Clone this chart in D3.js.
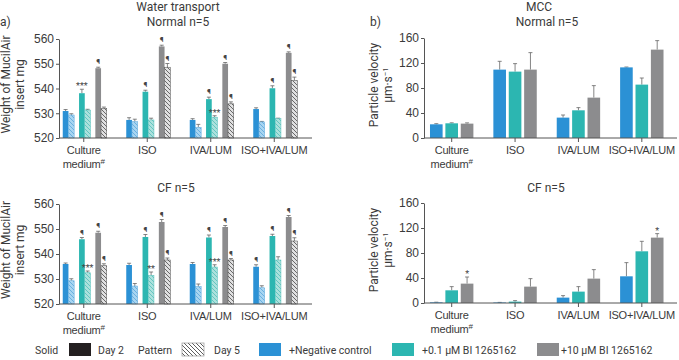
<!DOCTYPE html>
<html>
<head>
<meta charset="utf-8">
<script src="https://cdn.jsdelivr.net/npm/d3@7"></script>
<style>
  body { margin: 0; background: #fff; }
  svg { font-family: Roboto, "DejaVu Sans", sans-serif; }
</style>
</head>
<body>
<div id="chart"></div>
<script>
// categories and legend entries
const categoryLabels = [["Culture", "medium#"], ["ISO"], ["IVA/LUM"], ["ISO+IVA/LUM"]];
const treatments = ["+Negative control", "+0.1 µM BI 1265162", "+10 µM BI 1265162"];

// water transport, weight of MucilAir insert (mg); rows = treatment, cols = category
const waterNormalDay2 = [[530.9, 527.3, 527.3, 531.7], [538.1, 538.7, 535.7, 540.1], [548.2, 557.0, 550.0, 554.4]];
const waterNormalDay2Err = [[0.6, 0.9, 0.5, 0.5], [1.6, 0.6, 0.8, 1.0], [0.4, 0.5, 0.5, 0.4]];
const waterNormalDay5 = [[529.3, 526.6, 524.3, 526.5], [531.3, 527.3, 528.4, 527.8], [532.0, 548.6, 533.8, 543.2]];
const waterNormalDay5Err = [[0.5, 1.0, 1.2, 0.2], [0.3, 0.7, 0.6, 0.2], [0.5, 1.5, 0.8, 1.4]];
const waterCFDay2 = [[536.0, 535.6, 536.0, 534.9], [545.9, 546.8, 546.6, 547.2], [548.5, 552.8, 550.8, 554.8]];
const waterCFDay2Err = [[0.4, 0.7, 0.6, 0.8], [0.7, 1.0, 1.0, 0.7], [0.6, 1.0, 0.6, 0.6]];
const waterCFDay5 = [[529.3, 527.2, 527.0, 526.5], [532.5, 531.5, 534.8, 537.6], [535.3, 537.6, 537.6, 545.2]];
const waterCFDay5Err = [[0.8, 1.0, 1.0, 0.8], [0.7, 1.3, 0.9, 1.3], [0.8, 0.8, 0.6, 1.3]];

// MCC particle velocity (µm/s)
const mccNormal = [[21.9, 109.4, 32.6, 113.0], [23.5, 106.2, 44.3, 85.4], [23.0, 109.4, 64.6, 141.4]];
const mccNormalErr = [[1.0, 13.3, 4.2, 0.6], [0.8, 12.8, 4.3, 10.6], [1.2, 27.2, 19.2, 14.4]];
const mccCF = [[1.0, 0.8, 8.6, 42.7], [20.3, 2.2, 18.2, 82.7], [31.0, 26.2, 39.0, 104.6]];
const mccCFErr = [[0.3, 0.2, 3.2, 21.9], [5.9, 1.6, 8.0, 16.0], [10.6, 12.8, 14.4, 6.4]];

// significance marks: [category, treatment, day, text]
const waterNormalMarks = [
  [0, 1, 2, "***"], [0, 2, 2, "¶"],
  [1, 1, 2, "¶"], [1, 2, 2, "¶"], [1, 2, 5, "¶"],
  [2, 1, 2, "¶"], [2, 1, 5, "***"], [2, 2, 2, "¶"], [2, 2, 5, "¶"],
  [3, 1, 2, "¶"], [3, 2, 2, "¶"], [3, 2, 5, "¶"]
];
const waterCFMarks = [
  [0, 1, 2, "¶"], [0, 1, 5, "***"], [0, 2, 2, "¶"], [0, 2, 5, "¶"],
  [1, 1, 2, "¶"], [1, 1, 5, "**"], [1, 2, 2, "¶"], [1, 2, 5, "¶"],
  [2, 1, 2, "¶"], [2, 1, 5, "***"], [2, 2, 2, "¶"], [2, 2, 5, "¶"],
  [3, 0, 2, "¶"], [3, 1, 2, "¶"], [3, 2, 2, "¶"], [3, 2, 5, "¶"]
];
const mccCFMarks = [[0, 2, "*"], [3, 2, "*"]];

const solidColors = ["#2b91d5", "#2cb6b1", "#8c8c8e"];
const lightColors = ["#a8d5f1", "#ace1dd", "#e0e0e1"];
const hatchColors = ["#5aa7dc", "#52bfb9", "#4a4a4a"];
const axisColor = "#555";
const textColor = "#3a3a3a";

const svg = d3.select("#chart").append("svg")
  .attr("width", 679).attr("height", 360);

// hatch patterns
const defs = svg.append("defs");
function addHatch(id, bg, line) {
  const p = defs.append("pattern").attr("id", id)
    .attr("patternUnits", "userSpaceOnUse").attr("width", 4).attr("height", 4);
  p.append("rect").attr("width", 4).attr("height", 4).attr("fill", bg);
  p.append("path").attr("d", "M-1,-1L5,5M-1,3L1,5M3,-1L5,1")
    .attr("stroke", line).attr("stroke-width", 0.8);
}
lightColors.forEach((c, i) => addHatch("hatch" + i, c, hatchColors[i]));
addHatch("hatchLegend", "#fff", "#333");

const cats = d3.range(categoryLabels.length);

function drawAxes(g, x, y, axisX, ticks) {
  const yAxis = g.append("g")
    .attr("transform", `translate(${axisX[0]},0)`)
    .call(d3.axisLeft(y).tickValues(ticks).tickSize(3).tickPadding(2).tickSizeOuter(0));
  yAxis.select(".domain").attr("stroke", axisColor);
  yAxis.selectAll(".tick line").attr("stroke", axisColor);
  yAxis.selectAll(".tick text").attr("fill", textColor).style("font-size", "12px");

  const y0 = y.range()[0];
  g.append("line")
    .attr("x1", axisX[0]).attr("x2", axisX[1])
    .attr("y1", y0).attr("y2", y0)
    .attr("stroke", axisColor);
  const xAxis = g.append("g")
    .attr("transform", `translate(0,${y0})`)
    .call(d3.axisBottom(x).tickSize(4).tickSizeOuter(0).tickFormat(""));
  xAxis.select(".domain").remove();
  xAxis.selectAll(".tick line").attr("stroke", axisColor);
  xAxis.selectAll(".tick").each(function (d) {
    const t = d3.select(this).append("text")
      .attr("fill", textColor).attr("text-anchor", "middle")
      .style("font-size", "11px").style("letter-spacing", "-0.2px");
    categoryLabels[d].forEach((line, i) => {
      const ts = t.append("tspan").attr("x", 0).attr("y", 16 + i * 14);
      if (line.endsWith("#")) {
        ts.text(line.slice(0, -1));
        ts.append("tspan").attr("dy", -4).style("font-size", "8px").text("#");
      } else {
        ts.text(line);
      }
    });
  });
}

function drawYLabel(g, lines, cx, cy) {
  lines.forEach((l, i) => {
    const t = g.append("text")
      .attr("transform", `translate(${cx + i * 14},${cy}) rotate(-90)`)
      .attr("text-anchor", "middle").attr("fill", textColor)
      .style("font-size", "12px");
    if (typeof l === "string") t.text(l);
    else {
      t.text(l[0]);
      t.append("tspan").attr("dy", -4).style("font-size", "8px").text(l[1]);
    }
  });
}

function drawErr(g, xc, yTop, yErr) {
  g.append("line").attr("x1", xc).attr("x2", xc).attr("y1", yTop).attr("y2", yErr)
    .attr("stroke", "#666").attr("stroke-width", 0.8);
  g.append("line").attr("x1", xc - 2).attr("x2", xc + 2).attr("y1", yErr).attr("y2", yErr)
    .attr("stroke", "#666").attr("stroke-width", 0.8);
}

function mark(g, xc, yPos, txt) {
  const star = txt.indexOf("*") >= 0;
  g.append("text")
    .attr("x", xc).attr("y", star ? yPos + 2 : yPos - 1)
    .attr("text-anchor", "middle").attr("fill", "#444")
    .style("font-size", star ? "9px" : "8px")
    .text(txt);
}

// water transport panel: pairs of day 2 (solid) / day 5 (hatched) bars
function waterPanel(yRange, d2, e2, d5, e5, marks) {
  const g = svg.append("g");
  const x = d3.scaleBand().domain(cats).range([52, 306]);
  const y = d3.scaleLinear().domain([520, 560]).range(yRange);
  const bw = x.bandwidth();
  const xt = d3.scaleBand().domain([0, 1, 2]).range([bw / 2 - 21, bw / 2 + 23]).paddingInner(0.3);
  const xd = d3.scaleBand().domain([2, 5]).range([0, xt.bandwidth()]);

  const sets = [[2, d2, e2], [5, d5, e5]];
  const pos = {};
  sets.forEach(([day, vals, errs]) => {
    vals.forEach((row, s) => {
      row.forEach((v, c) => {
        const x0 = x(c) + xt(s) + xd(day);
        const w = xd.bandwidth();
        drawErr(g, x0 + w / 2, y(v), y(v + errs[s][c]));
        g.append("rect")
          .attr("x", x0).attr("y", y(v))
          .attr("width", w).attr("height", y(520) - y(v))
          .attr("fill", day === 2 ? solidColors[s] : `url(#hatch${s})`)
          .attr("stroke", day === 2 ? "none" : hatchColors[s])
          .attr("stroke-width", 0.5);
        pos[[c, s, day]] = [x0 + w / 2, y(v + errs[s][c])];
      });
    });
  });
  marks.forEach(([c, s, day, txt]) => {
    const [px, py] = pos[[c, s, day]];
    mark(g, px, py - 2, txt);
  });
  drawAxes(g, x, y, [59, 312], [520, 530, 540, 550, 560]);
  drawYLabel(g, ["Weight of MucilAir", "insert mg"], 10, (yRange[0] + yRange[1]) / 2 - 4);
}

// MCC panel: three solid bars per category
function mccPanel(yRange, vals, errs, marks) {
  const g = svg.append("g");
  const x = d3.scaleBand().domain(cats).range([420, 673.5]);
  const y = d3.scaleLinear().domain([0, 160]).range(yRange);
  const bw = x.bandwidth();
  const xt = d3.scaleBand().domain([0, 1, 2]).range([bw / 2 - 21.7, bw / 2 + 21.7]).paddingInner(0.18);
  vals.forEach((row, s) => {
    row.forEach((v, c) => {
      const x0 = x(c) + xt(s);
      const w = xt.bandwidth();
      drawErr(g, x0 + w / 2, y(v), y(v + errs[s][c]));
      g.append("rect")
        .attr("x", x0).attr("y", y(v))
        .attr("width", w).attr("height", y(0) - y(v))
        .attr("fill", solidColors[s]);
    });
  });
  marks.forEach(([c, s, txt]) => {
    const w = xt.bandwidth();
    mark(g, x(c) + xt(s) + w / 2, y(vals[s][c] + errs[s][c]) - 2, txt);
  });
  drawAxes(g, x, y, [424, 677], [0, 40, 80, 120, 160]);
  drawYLabel(g, ["Particle velocity", ["µm·s", "−1"]], 378, (yRange[0] + yRange[1]) / 2 - 3);
}

waterPanel([138, 39], waterNormalDay2, waterNormalDay2Err, waterNormalDay5, waterNormalDay5Err, waterNormalMarks);
waterPanel([304, 204], waterCFDay2, waterCFDay2Err, waterCFDay5, waterCFDay5Err, waterCFMarks);
mccPanel([138, 38], mccNormal, mccNormalErr, []);
mccPanel([303, 203], mccCF, mccCFErr, mccCFMarks);

// titles
const titles = [
  ["Water transport", 178, 11], ["Normal n=5", 178, 26], ["CF n=5", 176, 192],
  ["MCC", 539, 11], ["Normal n=5", 547, 26], ["CF n=5", 546, 192]
];
svg.selectAll("text.title").data(titles).join("text").attr("class", "title")
  .attr("x", d => d[1]).attr("y", d => d[2])
  .attr("text-anchor", "middle").attr("fill", textColor)
  .style("font-size", "12px").text(d => d[0]);
svg.append("text").attr("x", 0).attr("y", 26).attr("fill", textColor)
  .style("font-size", "12px").text("a)");
svg.append("text").attr("x", 370).attr("y", 26).attr("fill", textColor)
  .style("font-size", "12px").text("b)");

// legend
const legend = svg.append("g").attr("transform", "translate(0,343)");
const legendItems = [
  { label: "Solid", x: 35 },
  { sw: "#231f20", x: 69 },
  { label: "Day 2", x: 98 },
  { label: "Pattern", x: 138 },
  { sw: "url(#hatchLegend)", x: 182, stroke: "#999" },
  { label: "Day 5", x: 214 },
  { sw: solidColors[0], x: 259 },
  { label: treatments[0], x: 289 },
  { sw: solidColors[1], x: 392 },
  { label: treatments[1], x: 422 },
  { sw: solidColors[2], x: 537 },
  { label: treatments[2], x: 561 }
];
legendItems.forEach(it => {
  if (it.sw) {
    legend.append("rect").attr("x", it.x).attr("y", 0)
      .attr("width", 22).attr("height", 13)
      .attr("fill", it.sw).attr("stroke", it.stroke || "none").attr("stroke-width", 0.7);
  } else {
    legend.append("text").attr("x", it.x).attr("y", 10.5)
      .attr("fill", textColor).style("font-size", "10.5px").text(it.label);
  }
});
</script>
</body>
</html>
